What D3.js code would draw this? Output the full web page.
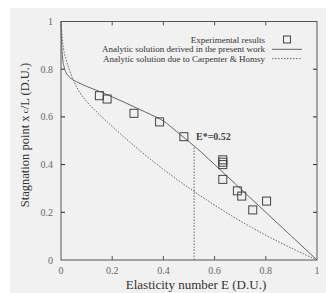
<!DOCTYPE html>
<html>
<head>
<meta charset="utf-8">
<script src="https://cdn.jsdelivr.net/npm/d3@7"></script>
<style>
  body { margin: 0; background: #fff; }
  svg { display: block; font-family: "Liberation Serif", "DejaVu Serif", serif; }
</style>
</head>
<body>
<svg id="chart" width="326" height="293"></svg>
<script>
// experimental points (E, x_c/L)
const expE = [0.15, 0.18, 0.285, 0.385, 0.48, 0.632, 0.632, 0.632, 0.632, 0.689, 0.706, 0.803, 0.749];
const expV = [0.689, 0.675, 0.615, 0.579, 0.517, 0.42, 0.41, 0.40, 0.338, 0.29, 0.268, 0.247, 0.21];

// analytic solution, present work
const presentE = [0, 0.002, 0.006, 0.012, 0.02, 0.03, 0.045, 0.06, 0.1, 0.15, 0.2, 0.25, 0.3, 0.35, 0.4, 0.45, 0.5, 0.55, 0.6, 0.7, 0.8, 0.9, 1.0];
const presentV = [1, 0.92, 0.85, 0.81, 0.785, 0.77, 0.757, 0.748, 0.728, 0.707, 0.684, 0.66, 0.635, 0.61, 0.583, 0.54, 0.496, 0.45, 0.40, 0.30, 0.20, 0.10, 0];

// Carpenter & Homsy
const chE = [0, 0.005, 0.01, 0.02, 0.035, 0.048, 0.075, 0.1, 0.15, 0.2, 0.25, 0.3, 0.35, 0.4, 0.5, 0.6, 0.7, 0.8, 0.9, 1.0];
const chV = [1, 0.93, 0.885, 0.84, 0.79, 0.755, 0.70, 0.665, 0.61, 0.56, 0.512, 0.466, 0.422, 0.38, 0.302, 0.23, 0.164, 0.104, 0.05, 0];

const eStar = 0.52;
const eStarTop = 0.478;
const ticks = [0, 0.2, 0.4, 0.6, 0.8, 1];
const tickLabels = ['0', '0.2', '0.4', '0.6', '0.8', '1'];

const svg = d3.select('#chart');
svg.append('rect').attr('x', 10).attr('y', 8).attr('width', 316).attr('height', 285).attr('fill', '#f1f1f1');

const x = d3.scaleLinear().domain([0, 1]).range([61, 317]);
const y = d3.scaleLinear().domain([0, 1]).range([260, 21.5]);
const ink = '#555';

// inner ticks on all sides
const tickLen = 4;
const g = svg.append('g');
ticks.slice(1, 5).forEach(t => {
  g.append('line').attr('x1', x(t)).attr('x2', x(t)).attr('y1', y(0)).attr('y2', y(0) - tickLen).attr('stroke', ink);
  g.append('line').attr('x1', x(t)).attr('x2', x(t)).attr('y1', y(1)).attr('y2', y(1) + tickLen).attr('stroke', ink);
  g.append('line').attr('y1', y(t)).attr('y2', y(t)).attr('x1', x(0)).attr('x2', x(0) + tickLen).attr('stroke', '#222');
  g.append('line').attr('y1', y(t)).attr('y2', y(t)).attr('x1', x(1)).attr('x2', x(1) - tickLen).attr('stroke', '#222');
});

svg.append('rect').attr('x', x(0)).attr('y', y(1)).attr('width', x(1) - x(0)).attr('height', y(0) - y(1))
  .attr('fill', 'none').attr('stroke', ink).attr('stroke-width', 1);

// tick labels
svg.append('g').selectAll('text').data(ticks).join('text')
  .attr('x', d => x(d)).attr('y', 274).attr('text-anchor', 'middle')
  .attr('font-size', 10).attr('fill', '#666').text((d, i) => tickLabels[i]);
svg.append('g').selectAll('text').data(ticks).join('text')
  .attr('x', 53).attr('y', d => y(d) + 3.5).attr('text-anchor', 'end')
  .attr('font-size', 10).attr('fill', '#666').text((d, i) => tickLabels[i]);

// axis titles
svg.append('text').attr('x', 196).attr('y', 289).attr('text-anchor', 'middle')
  .attr('font-size', 13).attr('fill', '#333').text('Elasticity number E (D.U.)');
const yt = svg.append('text').attr('transform', 'translate(29,135) rotate(-90)')
  .attr('text-anchor', 'middle').attr('font-size', 12.5).attr('fill', '#333');
yt.append('tspan').text('Stagnation point x');
yt.append('tspan').attr('font-size', 9).attr('dy', -1).text(' c');
yt.append('tspan').attr('dy', 1).text('/L (D.U.)');

// curves
const line = d3.line().x(d => x(d[0])).y(d => y(d[1])).curve(d3.curveMonotoneX);
svg.append('path').datum(d3.zip(presentE, presentV)).attr('d', line)
  .attr('fill', 'none').attr('stroke', '#666').attr('stroke-width', 1);
svg.append('path').datum(d3.zip(chE, chV)).attr('d', line)
  .attr('fill', 'none').attr('stroke', '#666').attr('stroke-width', 1).attr('stroke-dasharray', '1.5,1.5');

// E* marker
svg.append('line').attr('x1', x(eStar)).attr('x2', x(eStar)).attr('y1', y(0)).attr('y2', y(eStarTop))
  .attr('stroke', '#666').attr('stroke-dasharray', '1.5,1.5');
svg.append('text').attr('x', 196).attr('y', 139.5).attr('font-size', 10).attr('font-weight', 'bold')
  .attr('fill', '#444').text('E*=0.52');

// experimental squares
const s = 8;
svg.append('g').selectAll('rect').data(d3.zip(expE, expV)).join('rect')
  .attr('x', d => x(d[0]) - s / 2).attr('y', d => y(d[1]) - s / 2)
  .attr('width', s).attr('height', s).attr('fill', 'none').attr('stroke', '#444').attr('stroke-width', 1);

// legend
const legend = [
  'Experimental results',
  'Analytic solution derived in the present work',
  'Analytic solution due to Carpenter & Homsy'
];
const lg = svg.append('g');
legend.forEach((t, i) => {
  const ly = 40 + i * 9.3;
  lg.append('text').attr('x', 265).attr('y', ly + 3).attr('text-anchor', 'end')
    .attr('font-size', 9).attr('fill', '#333').text(t);
});
lg.append('rect').attr('x', 283.5).attr('y', 36).attr('width', 7).attr('height', 7)
  .attr('fill', 'none').attr('stroke', '#444');
lg.append('line').attr('x1', 272).attr('x2', 302).attr('y1', 49.3).attr('y2', 49.3).attr('stroke', '#666');
lg.append('line').attr('x1', 272).attr('x2', 302).attr('y1', 58.6).attr('y2', 58.6)
  .attr('stroke', '#666').attr('stroke-dasharray', '1.5,1.5');
</script>
</body>
</html>
